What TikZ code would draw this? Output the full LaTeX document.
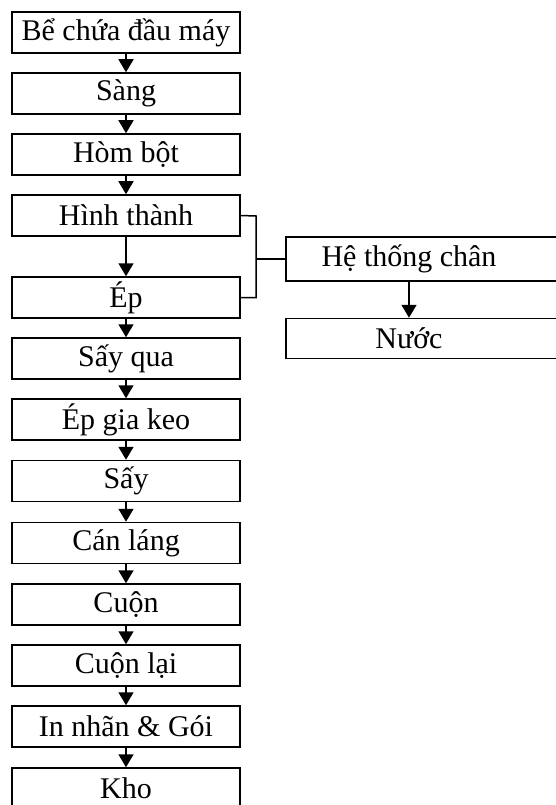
\documentclass[tikz,border=0pt]{standalone}
\usepackage{fontspec}
\setmainfont{Liberation Serif}
\usetikzlibrary{arrows.meta}
\begin{document}
\begin{tikzpicture}[x=1pt,y=-1pt,
  box/.style={draw,line width=1.5pt,minimum width=228pt,minimum height=41pt,inner sep=0pt,
    font=\fontsize{30}{32}\selectfont},
  rbox/.style={draw,line width=1.5pt,minimum width=320pt,inner sep=0pt},
  lbl/.style={inner sep=0pt,font=\fontsize{30}{32}\selectfont},
  arr/.style={line width=1.5pt,-{Triangle[length=13pt,width=15pt]}},
  ln/.style={line width=1.5pt}]
\useasboundingbox (0,0) rectangle (556,805);
\clip (0,0) rectangle (556,805);
\node[box] (b1) at (126,32.5) {Bể chứa đầu máy};
\node[box] (b2) at (126,93.5) {Sàng};
\node[box] (b3) at (126,154.5) {Hòm bột};
\node[box] (b4) at (126,215.5) {Hình thành};
\node[box] (b5) at (126,297.5) {Ép};
\node[box] (b6) at (126,358.5) {Sấy qua};
\node[box] (b7) at (126,419.5) {Ép gia keo};
\node[box] (b8) at (126,481) {Sấy};
\node[box] (b9) at (126,543) {Cán láng};
\node[box] (b10) at (126,604.5) {Cuộn};
\node[box] (b11) at (126,665.5) {Cuộn lại};
\node[box] (b12) at (126,726.5) {In nhãn \& Gói};
\node[box] (b13) at (126,788.5) {Kho};
\foreach \a/\b in {b1/b2,b2/b3,b3/b4,b4/b5,b5/b6,b6/b7,b7/b8,b8/b9,b9/b10,b10/b11,b11/b12,b12/b13}
  \draw[arr] (\a.south) -- (\b.north);
% right side
\node[rbox,minimum height=44pt] (h) at (446,259) {};
\node[lbl] (ht) at (409,259) {Hệ thống chân};
\node[rbox,minimum height=40pt] (n) at (446,338.5) {};
\node[lbl] (nt) at (409,338.5) {Nước};
\coordinate (ax) at (409,0);
\draw[arr] (h.south -| ax) -- (n.north -| ax);
\coordinate (j) at (256,216);
\draw[ln] (b4.east) -- (j) |- (b5.east);
\draw[ln] (h.west) -- (h.west -| j);
\end{tikzpicture}
\end{document}
